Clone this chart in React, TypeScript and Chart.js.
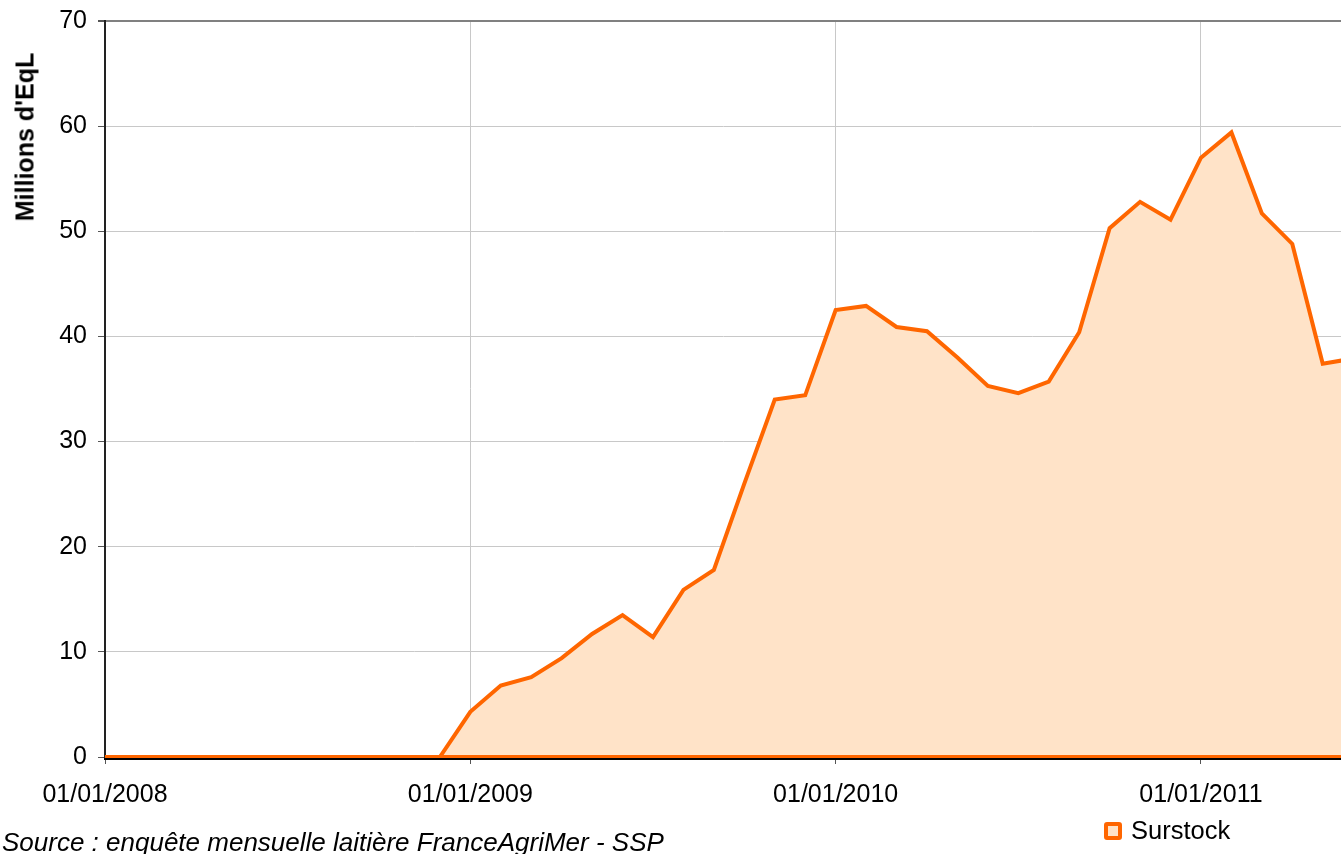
import React, { useEffect, useRef } from 'react';
import { Chart, registerables } from 'chart.js';

Chart.register(...registerables);

// Months from Jan 2008 (index 0) to Jun 2011 (index 41)
const months = [
  '2008-01', '2008-02', '2008-03', '2008-04', '2008-05', '2008-06',
  '2008-07', '2008-08', '2008-09', '2008-10', '2008-11', '2008-12',
  '2009-01', '2009-02', '2009-03', '2009-04', '2009-05', '2009-06',
  '2009-07', '2009-08', '2009-09', '2009-10', '2009-11', '2009-12',
  '2010-01', '2010-02', '2010-03', '2010-04', '2010-05', '2010-06',
  '2010-07', '2010-08', '2010-09', '2010-10', '2010-11', '2010-12',
  '2011-01', '2011-02', '2011-03', '2011-04', '2011-05', '2011-06',
];

const surstock = [
  0, 0, 0, 0, 0, 0, 0, 0, 0, 0, 0, 0,
  4.3, 6.8, 7.6, 9.4, 11.7, 13.5, 11.4, 15.9, 17.8, 26.0, 34.0, 34.4,
  42.5, 42.9, 40.9, 40.5, 38.0, 35.3, 34.6, 35.7, 40.4, 50.3, 52.8, 51.1,
  57.0, 59.4, 51.7, 48.8, 37.4, 37.9,
];

const xTickIndices = [0, 12, 24, 36];
const xTickLabels = ['01/01/2008', '01/01/2009', '01/01/2010', '01/01/2011'];
const yTickValues = [0, 10, 20, 30, 40, 50, 60, 70];

const seriesName = 'Surstock';
const yTitle = "Millions d'EqL";
const sourceText = 'Source : enquête mensuelle laitière FranceAgriMer - SSP';

const FONT = "Arial, 'Liberation Sans', sans-serif";
const ORANGE = '#FF6600';
const FILL = '#FFE3C8';

export default function App() {
  const canvasRef = useRef<HTMLCanvasElement | null>(null);

  useEffect(() => {
    const canvas = canvasRef.current;
    if (!canvas) return;

    const baselinePlugin = {
      id: 'baseline',
      afterDatasetsDraw(chart: any) {
        const { ctx, chartArea, scales } = chart;
        const y = scales.y.getPixelForValue(0);
        ctx.save();
        ctx.strokeStyle = '#000';
        ctx.lineWidth = 2;
        ctx.beginPath();
        ctx.moveTo(chartArea.left - 1, y + 2);
        ctx.lineTo(chartArea.right, y + 2);
        ctx.stroke();
        ctx.strokeStyle = ORANGE;
        ctx.lineWidth = 3;
        ctx.beginPath();
        ctx.moveTo(chartArea.left, y - 0.5);
        ctx.lineTo(chartArea.right, y - 0.5);
        ctx.stroke();
        ctx.restore();
      },
    };

    const chart = new Chart(canvas, {
      type: 'line',
      data: {
        datasets: [
          {
            label: seriesName,
            data: surstock.map((v, i) => ({ x: i, y: v })),
            borderColor: ORANGE,
            backgroundColor: FILL,
            borderWidth: 4,
            fill: 'origin',
            pointRadius: 0,
            tension: 0,
          },
        ],
      },
      options: {
        responsive: false,
        animation: false,
        devicePixelRatio: 1,
        layout: { padding: { top: 21, left: 0, right: 0, bottom: 0 } },
        plugins: {
          legend: { display: false },
          tooltip: { enabled: false },
          title: { display: false },
        },
        scales: {
          x: {
            type: 'linear',
            min: 0,
            max: 40.6,
            afterBuildTicks: (scale: any) => {
              scale.ticks = xTickIndices.map((v) => ({ value: v }));
            },
            afterFit: (scale: any) => {
              scale.height = 97;
              scale.paddingLeft = 0;
              scale.paddingRight = 0;
            },
            ticks: {
              autoSkip: false,
              maxRotation: 0,
              padding: 16,
              color: '#000',
              font: { family: FONT, size: 25 },
              callback: (v: any) => {
                const i = xTickIndices.indexOf(Number(v));
                return i >= 0 ? xTickLabels[i] : '';
              },
            },
            grid: {
              color: (ctx: any) =>
                ctx.tick && ctx.tick.value === 0 ? 'rgba(0,0,0,0)' : '#C8C8C8',
              lineWidth: 1,
              tickColor: '#555',
              tickLength: 7,
            },
            border: { color: '#000', width: 2 },
          },
          y: {
            type: 'linear',
            min: 0,
            max: 70,
            afterBuildTicks: (scale: any) => {
              scale.ticks = yTickValues.map((v) => ({ value: v }));
            },
            afterFit: (scale: any) => {
              scale.width = 105;
              scale.paddingTop = 0;
              scale.paddingBottom = 0;
            },
            ticks: {
              padding: 11,
              color: '#000',
              font: { family: FONT, size: 25 },
              callback: (v: any) => String(v),
            },
            grid: {
              color: (ctx: any) => {
                if (!ctx.tick) return '#C8C8C8';
                if (ctx.tick.value === 70) return '#808080';
                if (ctx.tick.value === 0) return 'rgba(0,0,0,0)';
                return '#C8C8C8';
              },
              lineWidth: (ctx: any) => (ctx.tick && ctx.tick.value === 70 ? 2 : 1),
              tickColor: '#555',
              tickLength: 7,
            },
            border: { color: '#222', width: 2 },
          },
        },
      },
      plugins: [baselinePlugin],
    } as any);

    return () => {
      chart.destroy();
    };
  }, []);

  return (
    <div
      style={{
        position: 'fixed',
        left: 0,
        top: 0,
        width: 1341,
        height: 854,
        overflow: 'hidden',
        background: '#fff',
        fontFamily: FONT,
      }}
    >
      <canvas
        ref={canvasRef}
        width={1341}
        height={854}
        style={{ position: 'absolute', left: 0, top: 0, width: 1341, height: 854, display: 'block' }}
      />
      <div
        style={{
          position: 'absolute',
          left: 25,
          top: 137,
          transform: 'translate(-50%, -50%) rotate(-90deg)',
          whiteSpace: 'nowrap',
          fontWeight: 'bold',
          fontSize: 25,
          lineHeight: '25px',
          color: '#000',
        }}
      >
        {yTitle}
      </div>
      <div
        style={{
          position: 'absolute',
          left: 2,
          top: 829,
          whiteSpace: 'nowrap',
          fontStyle: 'italic',
          fontSize: 26,
          lineHeight: '26px',
          color: '#000',
        }}
      >
        {sourceText}
      </div>
      <div
        style={{
          position: 'absolute',
          left: 1104,
          top: 822,
          width: 18,
          height: 18,
          boxSizing: 'border-box',
          border: `4px solid ${ORANGE}`,
          borderRadius: 3,
          background: FILL,
        }}
      />
      <div
        style={{
          position: 'absolute',
          left: 1131,
          top: 818,
          whiteSpace: 'nowrap',
          fontSize: 25.5,
          lineHeight: '25px',
          color: '#000',
        }}
      >
        {seriesName}
      </div>
    </div>
  );
}
